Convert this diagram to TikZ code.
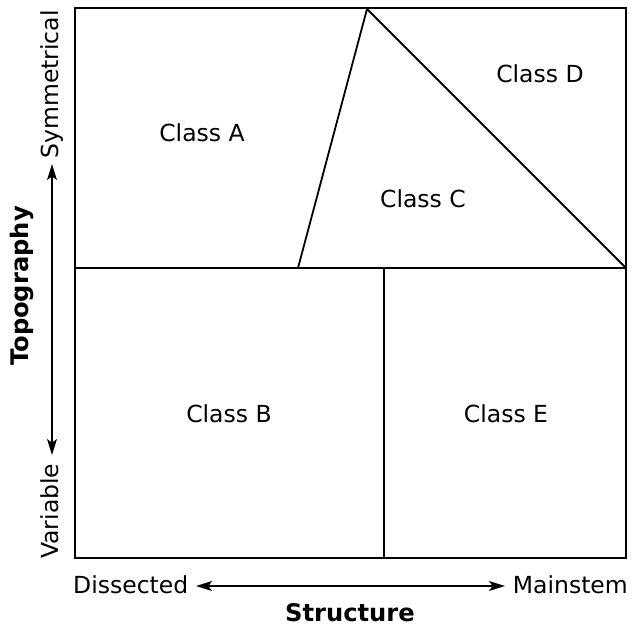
\documentclass[tikz,border=0pt]{standalone}
\usepackage{fontspec}
\setmainfont{DejaVu Sans}
\begin{document}
\begin{tikzpicture}[x=1pt,y=-1pt,
  lbl/.style={font=\fontsize{23.5}{28}\selectfont, inner sep=0pt},
  blbl/.style={font=\fontsize{24.2}{29}\selectfont\bfseries, inner sep=0pt},
  edge/.style={line width=1.8pt, black},
  axline/.style={line width=1.7pt, shorten <=10pt, shorten >=10pt},
  axtip/.style={fill=black}]
\useasboundingbox (0,0) rectangle (632,633);
% frame
\coordinate (tl) at (75,8);
\coordinate (br) at (626,558);
\coordinate (ml) at (75,268);
\coordinate (mr) at (626,268);
\coordinate (mm) at (384,268);
\coordinate (mb) at (384,558);
\coordinate (tb) at (298,268);
\coordinate (tt) at (367,9);
\draw[edge] (tl) rectangle (br);
\draw[edge] (ml) -- (mr);
\draw[edge] (mm) -- (mb);
\draw[edge] (tb) -- (tt) -- (mr);
% class labels
\node[lbl] (A) at (202,133) {Class A};
\node[lbl] (D) at (540,74) {Class D};
\node[lbl] (C) at (423,199) {Class C};
\node[lbl] (B) at (229,414) {Class B};
\node[lbl] (E) at (506,414) {Class E};
% vertical axis
\node[lbl, rotate=90, anchor=base east] (sym) at (59,10) {Symmetrical};
\node[lbl, rotate=90, anchor=base west] (var) at (59,559) {Variable};
\coordinate (vt) at (52,164);
\coordinate (vb) at (52,455);
\draw[axline] (vb) -- (vt);
\fill[axtip] (vt) -- ++(-5,16) -- ++(5,-3.5) -- ++(5,3.5) -- cycle;
\fill[axtip] (vb) -- ++(-5,-16) -- ++(5,3.5) -- ++(5,-3.5) -- cycle;
\node[blbl, rotate=90] (topo) at (22,286) {Topography};
% horizontal axis
\node[lbl, anchor=base west] (dis) at (73,593) {Dissected};
\node[lbl, anchor=base east] (main) at (628,593) {Mainstem};
\coordinate (hl) at (196,586);
\coordinate (hr) at (505,586);
\draw[axline] (hl) -- (hr);
\fill[axtip] (hl) -- ++(16,-5) -- ++(-3.5,5) -- ++(3.5,5) -- cycle;
\fill[axtip] (hr) -- ++(-16,-5) -- ++(3.5,5) -- ++(-3.5,5) -- cycle;
\node[blbl] (str) at (350,613) {Structure};
\end{tikzpicture}
\end{document}
